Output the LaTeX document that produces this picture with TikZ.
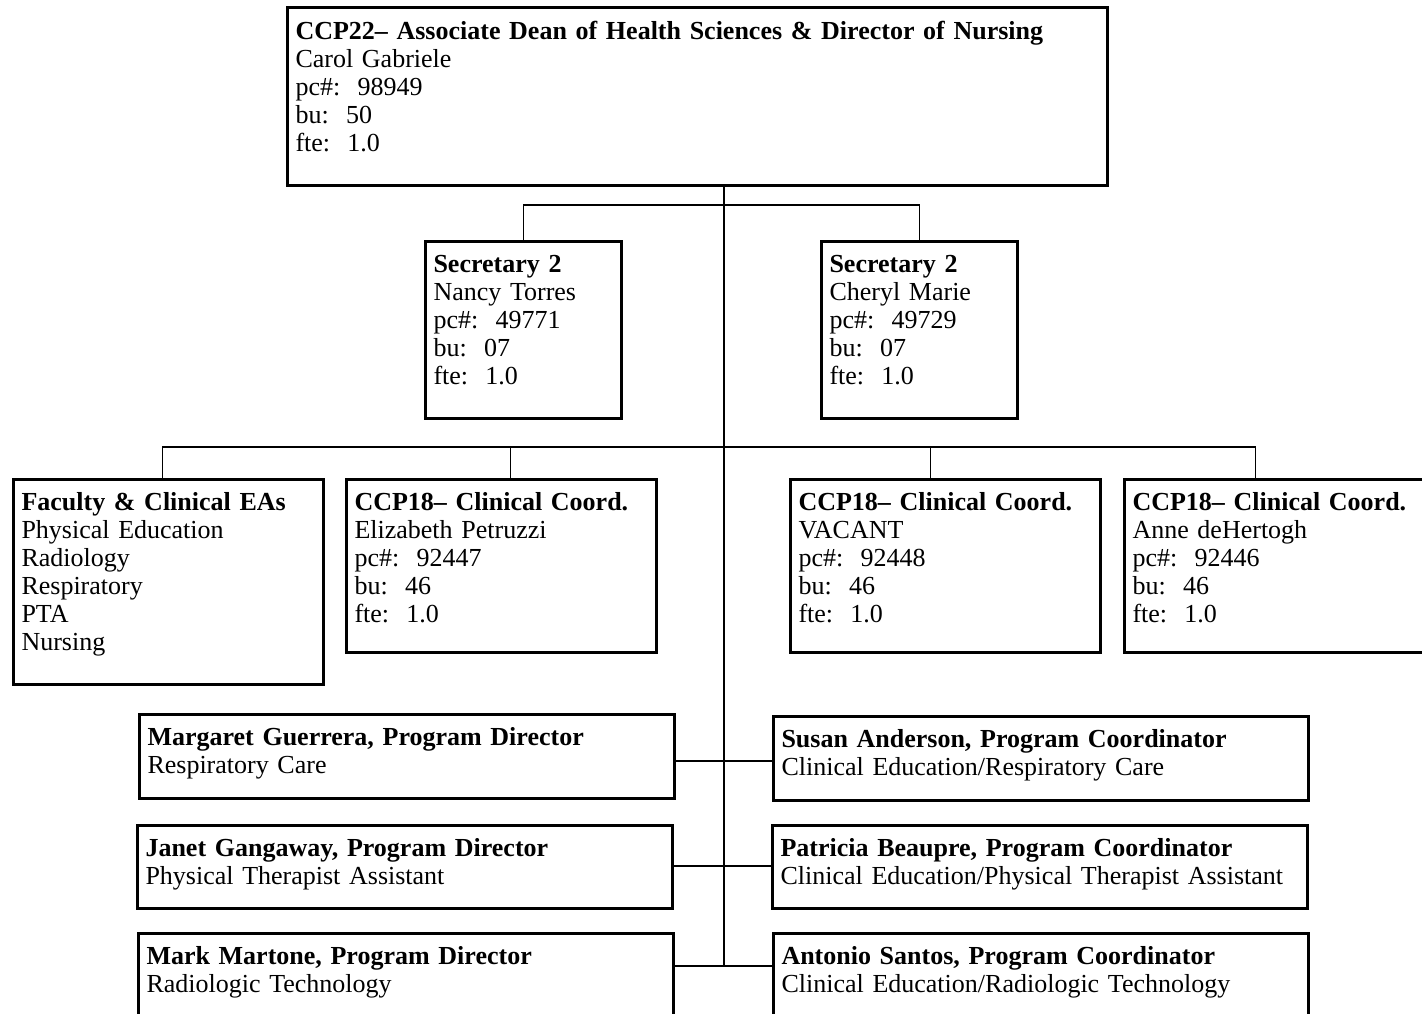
\documentclass[tikz,border=0pt]{standalone}
\usepackage{fontspec}
\setmainfont{Liberation Serif}
\usetikzlibrary{positioning}

\begin{document}
\begin{tikzpicture}[
  x=0.5pt, y=-0.5pt,
  box/.style 2 args={draw, line width=1.5pt, anchor=north west, align=left,
    inner xsep=4pt, inner ysep=0pt, font=\fontsize{13}{14}\selectfont,
    text height=15.5pt, text width=#1, text depth=#2},
  link/.style={line width=0.75pt}
]
\useasboundingbox (0,0) rectangle (1422,1013);

% Row 1: dean
\node[box={402pt}{73pt}, text height=16pt] (dean) at (286,6) {\textbf{CCP22-- Associate Dean of Health Sciences \& Director of Nursing}\\Carol Gabriele\\pc\#:\ \ 98949\\bu:\ \ 50\\fte:\ \ 1.0};

% Row 2: secretaries
\node[box={90pt}{73pt}] (sec1) at (424,240) {\textbf{Secretary 2}\\Nancy Torres\\pc\#:\ \ 49771\\bu:\ \ 07\\fte:\ \ 1.0};
\node[box={90pt}{73pt}] (sec2) at (820,240) {\textbf{Secretary 2}\\Cheryl Marie\\pc\#:\ \ 49729\\bu:\ \ 07\\fte:\ \ 1.0};

% Row 3: faculty and clinical coordinators
\node[box={147pt}{87pt}] (fac) at (12,478) {\textbf{Faculty \& Clinical EAs}\\Physical Education\\Radiology\\Respiratory\\PTA\\Nursing};
\node[box={147pt}{71pt}] (clin1) at (345,478) {\textbf{CCP18-- Clinical Coord.}\\Elizabeth Petruzzi\\pc\#:\ \ 92447\\bu:\ \ 46\\fte:\ \ 1.0};
\node[box={147pt}{71pt}] (clin2) at (789,478) {\textbf{CCP18-- Clinical Coord.}\\VACANT\\pc\#:\ \ 92448\\bu:\ \ 46\\fte:\ \ 1.0};
\node[box={147pt}{71pt}] (clin3) at (1123,478) {\textbf{CCP18-- Clinical Coord.}\\Anne deHertogh\\pc\#:\ \ 92446\\bu:\ \ 46\\fte:\ \ 1.0};

% Program directors (left)
\node[box={259.5pt}{26.5pt}] (marg) at (138,713) {\textbf{Margaret Guerrera, Program Director}\\Respiratory Care};
\node[box={259.5pt}{26pt}] (janet) at (136,824) {\textbf{Janet Gangaway, Program Director}\\Physical Therapist Assistant};
\node[box={259.5pt}{26.5pt}] (mark) at (137,932) {\textbf{Mark Martone, Program Director}\\Radiologic Technology};

% Program coordinators (right)
\node[box={259.5pt}{26.5pt}] (susan) at (772,715) {\textbf{Susan Anderson, Program Coordinator}\\Clinical Education/Respiratory Care};
\node[box={259.5pt}{26pt}] (patricia) at (771,824) {\textbf{Patricia Beaupre, Program Coordinator}\\Clinical Education/Physical Therapist Assistant};
\node[box={259.5pt}{26.5pt}] (antonio) at (772,932) {\textbf{Antonio Santos, Program Coordinator}\\Clinical Education/Radiologic Technology};

% Connectors
\coordinate (bar1) at (724,205);
\coordinate (bar2) at (724,447);
\coordinate (tie1) at (724,761);
\coordinate (tie2) at (724,866);
\coordinate (tie3) at (724,966);

\draw[link] (dean.south -| tie3) -- (tie3);
\draw[link] (sec1.north) |- (bar1) -| (sec2.north);

\draw[link] ([xshift=-3pt]fac.north) |- (bar2) -| ([xshift=-12pt]clin3.north);
\draw[link] ([xshift=4.5pt]clin1.north) -- ([xshift=4.5pt]clin1.north |- bar2);
\draw[link] ([xshift=-7.5pt]clin2.north) -- ([xshift=-7.5pt]clin2.north |- bar2);

\draw[link] (marg.east |- tie1) -- (susan.west |- tie1);
\draw[link] (janet.east |- tie2) -- (patricia.west |- tie2);
\draw[link] (mark.east |- tie3) -- (antonio.west |- tie3);

\end{tikzpicture}
\end{document}
